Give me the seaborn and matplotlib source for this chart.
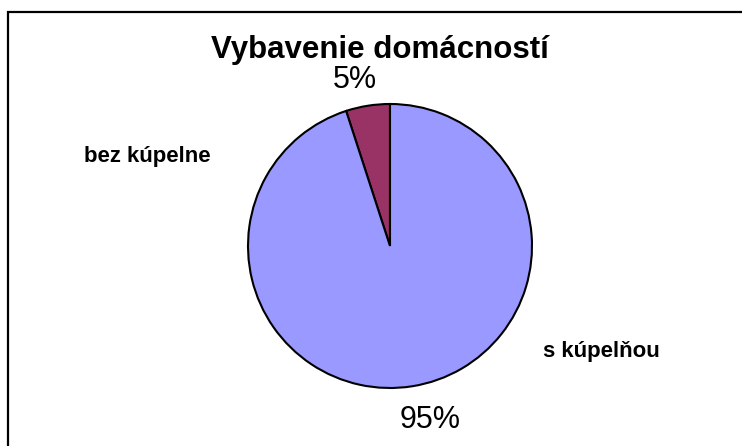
import matplotlib
matplotlib.use("Agg")
import matplotlib.pyplot as plt
import seaborn as sns
from matplotlib.patches import Rectangle

# data
labels = ["bez kúpelne", "s kúpelňou"]
values = [5, 95]
pct_labels = ["5%", "95%"]
colors = ["#993366", "#9999FF"]
title = "Vybavenie domácností"

sns.set_theme(style="white")
plt.rcParams["font.family"] = ["Liberation Sans", "DejaVu Sans"]
plt.rcParams["text.color"] = "black"

W, H = 742, 446
fig = plt.figure(figsize=(W / 100, H / 100), dpi=100)
fig.patch.set_facecolor("white")

# pie centre (390, 246), radius 142 px
cx, cy, r = 390, 246, 142
ax = fig.add_axes([(cx - r) / W, (H - cy - r) / H, 2 * r / W, 2 * r / H])
ax.pie(values, colors=colors, startangle=90, counterclock=True,
       wedgeprops=dict(edgecolor="black", linewidth=1.5))
ax.set_xlim(-1, 1)
ax.set_ylim(-1, 1)
ax.set_aspect("equal")
ax.axis("off")


def px(x, y):
    return x / W, 1 - y / H


# chart border (right and bottom run off the image)
fig.patches.append(Rectangle(px(8, 460), (760 - 8) / W, (460 - 12) / H,
                             transform=fig.transFigure, fill=False,
                             edgecolor="black", linewidth=1.6))

fig.text(*px(380, 58), title, ha="center", va="baseline",
         fontsize=22.5, fontweight="bold", color="black")
fig.text(*px(333, 88), pct_labels[0], ha="left", va="baseline",
         fontsize=22, color="black")
fig.text(*px(400, 428), pct_labels[1], ha="left", va="baseline",
         fontsize=22, color="black")
fig.text(*px(211, 162), labels[0], ha="right", va="baseline",
         fontsize=16, fontweight="bold", color="black")
fig.text(*px(543, 357), labels[1], ha="left", va="baseline",
         fontsize=16, fontweight="bold", color="black")

fig.savefig("out.png", dpi=100, facecolor="white")
